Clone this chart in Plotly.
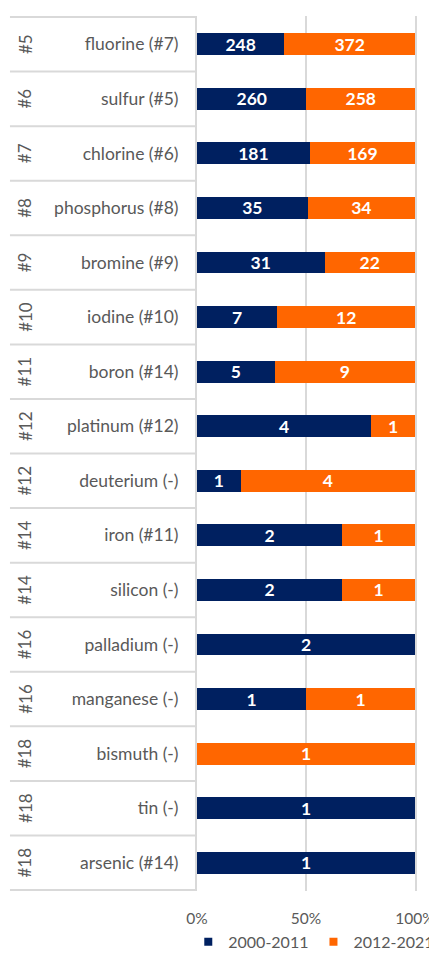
import plotly.graph_objects as go

RANKS = ["#5", "#6", "#7", "#8", "#9", "#10", "#11", "#12", "#12", "#14",
         "#14", "#16", "#16", "#18", "#18", "#18"]
ELEMENTS = ["fluorine (#7)", "sulfur (#5)", "chlorine (#6)", "phosphorus (#8)",
            "bromine (#9)", "iodine (#10)", "boron (#14)", "platinum (#12)",
            "deuterium (-)", "iron (#11)", "silicon (-)", "palladium (-)",
            "manganese (-)", "bismuth (-)", "tin (-)", "arsenic (#14)"]
COUNT_2000_2011 = [248, 260, 181, 35, 31, 7, 5, 4, 1, 2, 2, 2, 1, 0, 1, 1]
COUNT_2012_2021 = [372, 258, 169, 34, 22, 12, 9, 1, 4, 1, 1, 0, 1, 1, 0, 0]
SERIES = [("2000-2011", COUNT_2000_2011, "#002060"),
          ("2012-2021", COUNT_2012_2021, "#FF6600")]
PCT_TICKS = [0, 50, 100]

GREY = "#595959"
GRID = "#D9D9D9"
FONT = "Lato"
SIZE = 17.5

fig = go.Figure()
for name, counts, color in SERIES:
    fig.add_trace(go.Bar(
        name=name,
        y=ELEMENTS,
        x=counts,
        orientation="h",
        marker=dict(color=color, line=dict(width=0)),
        text=[str(c) if c else "" for c in counts],
        textposition="inside",
        insidetextanchor="middle",
        textangle=0,
        textfont=dict(family=FONT, size=SIZE, color="white", weight="bold"),
        showlegend=False,
    ))

# legend entries with small square swatches, like the original
for name, counts, color in SERIES:
    fig.add_trace(go.Scatter(
        name=name, x=[None], y=[None], mode="markers",
        marker=dict(symbol="square", size=8, color=color),
        hoverinfo="skip",
    ))

# rank labels (outer category level), rotated
for rank, element in zip(RANKS, ELEMENTS):
    fig.add_annotation(
        x=-0.79, xref="paper", y=element, yref="y",
        xanchor="center", yanchor="middle",
        text=rank, textangle=-90, showarrow=False,
        font=dict(family=FONT, size=17, color=GREY),
    )

# separators between category rows in the label area
for i in range(len(ELEMENTS) + 1):
    fig.add_shape(
        type="line", xref="paper", yref="y",
        x0=-0.858, x1=-0.004, y0=i - 0.5, y1=i - 0.5,
        line=dict(color=GRID, width=2),
    )

# page body has an 8px margin, so the figure is 8px smaller than the window
fig.update_layout(
    width=429,
    height=947,
    margin=dict(l=189, r=22, t=8, b=64, autoexpand=False),
    barmode="stack",
    barnorm="percent",
    bargap=0.6,
    plot_bgcolor="white",
    paper_bgcolor="white",
    font=dict(family=FONT, size=SIZE, color=GREY),
    uniformtext=dict(minsize=SIZE, mode="show"),
    showlegend=True,
    legend=dict(
        orientation="h", x=-0.04, xanchor="left", y=-0.058, yanchor="middle",
        font=dict(family=FONT, size=16, color=GREY),
        traceorder="normal",
    ),
)
fig.update_xaxes(
    range=[0, 100],
    tickmode="array",
    tickvals=PCT_TICKS,
    ticktext=[f"{v}%" for v in PCT_TICKS],
    showgrid=True, gridcolor=GRID, gridwidth=1.5,
    zeroline=False,
    automargin=False,
    ticklabeloverflow="allow",
    ticklabelstandoff=16,
    tickfont=dict(family=FONT, size=15.5, color=GREY),
    fixedrange=True,
)
fig.update_yaxes(
    autorange="reversed",
    showline=True, linecolor=GRID, linewidth=2, mirror=True,
    showgrid=False,
    automargin=False,
    ticklabelstandoff=13,
    tickfont=dict(family=FONT, size=SIZE, color=GREY),
    fixedrange=True,
)

fig.write_html("out.html")
